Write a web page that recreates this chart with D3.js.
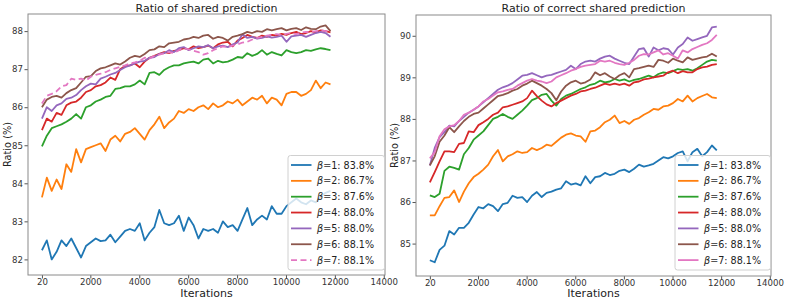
<!DOCTYPE html>
<html>
<head>
<meta charset="utf-8">
<script src="https://cdn.jsdelivr.net/npm/d3@7"></script>
<style>
  body { margin: 0; background: #fff; }
  text { font-family: "DejaVu Sans", sans-serif; }
</style>
</head>
<body>
<div id="chart"></div>
<script>
// iterations sampled along the x axis
const iterations = [20,220,420,620,820,1020,1220,1420,1620,1820,2020,2220,2420,2620,2820,3020,3220,3420,3620,3820,
  4020,4220,4420,4620,4820,5020,5220,5420,5620,5820,6020,6220,6420,6620,6820,7020,7220,7420,7620,7820,
  8020,8220,8420,8620,8820,9020,9220,9420,9620,9820,10020,10220,10420,10620,10820,11020,11220,11420,11620,11820];

const xTicks = [20, 2000, 4000, 6000, 8000, 10000, 12000, 14000];
const sharedTicks = [82, 83, 84, 85, 86, 87, 88];
const correctTicks = [85, 86, 87, 88, 89, 90];

const betas = [1, 2, 3, 4, 5, 6, 7];
const accLabels = ["83.8%", "86.7%", "87.6%", "88.0%", "88.0%", "88.1%", "88.1%"];
const colors = ["#1f77b4", "#ff7f0e", "#2ca02c", "#d62728", "#9467bd", "#8c564b", "#e377c2"];

// Ratio of shared prediction
const sharedB1 = [82.24,82.5,82.0,82.2,82.5,82.35,82.55,82.3,82.05,82.35,
  82.45,82.55,82.48,82.5,82.65,82.45,82.6,82.75,82.8,82.75,
  82.95,82.5,82.7,82.85,83.3,82.95,82.9,82.95,83.15,82.75,
  83.1,82.9,82.55,82.8,82.75,82.8,82.7,83.0,82.85,82.9,
  82.75,83.05,83.35,82.9,83.05,83.15,83.05,83.4,83.2,83.2,
  83.4,83.5,83.6,83.5,83.45,83.55,83.5,83.65,83.75,83.8];
const sharedB2 = [83.63,84.15,83.8,84.1,83.85,84.5,84.3,84.9,84.55,84.9,
  84.95,85.0,85.05,84.85,85.15,85.25,85.1,85.3,85.35,85.45,
  85.3,85.15,85.4,85.55,85.75,85.45,85.6,85.7,85.9,85.85,
  85.95,85.9,86.0,86.05,85.95,86.1,86.0,86.05,86.15,86.1,
  86.2,86.05,86.15,86.25,86.2,86.3,86.1,86.25,86.2,86.05,
  86.35,86.4,86.4,86.3,86.35,86.45,86.7,86.5,86.65,86.6];
const sharedB3 = [84.97,85.25,85.45,85.5,85.55,85.62,85.7,85.82,85.7,86.0,
  86.05,86.15,86.2,86.27,86.3,86.48,86.5,86.55,86.55,86.6,
  86.7,86.6,86.9,86.92,86.85,86.98,87.05,87.1,87.1,87.15,
  87.18,87.2,87.15,87.25,87.28,87.15,87.22,87.18,87.2,87.25,
  87.32,87.3,87.42,87.35,87.4,87.5,87.38,87.45,87.4,87.36,
  87.5,87.45,87.42,87.45,87.5,87.48,87.52,87.55,87.53,87.5];
const sharedB4 = [85.4,85.7,85.62,85.85,85.8,86.05,86.12,86.15,86.25,86.4,
  86.45,86.55,86.58,86.65,86.78,86.72,87.0,87.08,87.1,87.15,
  87.05,87.2,87.3,87.35,87.4,87.45,87.42,87.48,87.5,87.55,
  87.52,87.6,87.55,87.58,87.62,87.55,87.65,87.7,87.72,87.6,
  87.75,87.82,87.9,87.85,87.82,87.88,87.85,87.9,87.88,87.93,
  87.9,87.95,87.98,87.92,87.95,88.0,87.97,88.02,88.0,87.97];
const sharedB5 = [85.7,86.0,85.9,86.05,86.1,86.22,86.25,86.32,86.45,86.55,
  86.62,86.6,86.75,86.8,86.86,86.9,86.98,87.05,87.1,87.15,
  87.2,87.22,87.3,87.32,87.4,87.42,87.5,87.45,87.55,87.58,
  87.5,87.55,87.6,87.58,87.63,87.55,87.6,87.62,87.58,87.65,
  87.7,87.92,87.82,87.85,87.8,87.82,87.86,87.83,87.85,87.88,
  87.72,87.86,87.88,87.9,87.85,87.9,87.95,87.98,87.95,87.85];
const sharedB6 = [86.0,86.2,86.27,86.3,86.25,86.37,86.45,86.5,86.65,86.8,
  86.82,86.95,87.02,87.05,87.1,87.15,87.12,87.2,87.3,87.35,
  87.32,87.4,87.5,87.52,87.6,87.58,87.68,87.7,87.72,87.78,
  87.8,87.85,87.82,87.88,87.9,87.8,87.85,87.82,87.75,87.85,
  87.88,87.92,87.98,87.95,88.0,87.98,88.05,88.02,88.05,88.08,
  88.02,88.06,88.08,88.03,88.1,88.06,88.05,88.12,88.15,88.0];
const sharedB7 = [86.1,86.3,86.35,86.42,86.55,86.58,86.75,86.72,86.75,86.7,
  86.8,86.85,86.88,86.92,86.98,87.02,87.06,87.1,87.15,87.18,
  87.22,87.3,87.28,87.35,87.38,87.42,87.45,87.42,87.5,87.55,
  87.52,87.48,87.45,87.38,87.42,87.5,87.55,87.6,87.58,87.62,
  87.65,87.7,87.72,87.78,87.82,87.85,87.88,87.9,87.92,87.9,
  87.93,87.95,87.92,87.96,87.98,87.97,88.0,88.02,88.0,88.0];

// Ratio of correct shared prediction
const correctB1 = [84.6,84.55,84.85,84.95,85.3,85.22,85.38,85.38,85.5,85.7,
  85.88,85.85,85.95,85.9,85.78,85.95,85.98,86.15,86.1,86.12,
  86.0,86.15,86.24,86.12,86.22,86.25,86.3,86.33,86.5,86.42,
  86.45,86.4,86.62,86.45,86.6,86.62,86.7,86.65,86.68,86.75,
  86.78,86.72,86.8,86.9,86.85,86.88,86.92,87.0,87.08,87.05,
  87.1,87.18,87.22,86.98,87.2,87.28,87.1,87.2,87.36,87.24];
const correctB2 = [85.68,85.68,85.9,86.1,86.12,86.28,86.0,86.25,86.45,86.6,
  86.68,86.78,86.9,87.1,87.25,86.98,87.1,87.15,87.22,87.18,
  87.2,87.3,87.25,87.3,87.38,87.35,87.45,87.55,87.62,87.65,
  87.6,87.58,87.45,87.7,87.72,87.8,87.92,87.98,88.08,87.9,
  87.95,87.88,87.98,88.02,88.1,88.16,88.24,88.22,88.3,88.32,
  88.38,88.48,88.42,88.56,88.42,88.5,88.55,88.6,88.52,88.5];
const correctB3 = [86.16,86.12,86.2,86.75,86.85,86.82,86.78,87.15,87.3,87.5,
  87.6,87.7,87.85,88.0,88.05,88.12,88.05,88.0,88.1,88.2,
  88.32,88.45,88.5,88.58,88.6,88.44,88.32,88.48,88.56,88.6,
  88.66,88.72,88.76,88.82,88.85,88.92,88.88,88.9,88.96,88.92,
  88.95,88.9,88.94,88.96,89.0,89.04,89.0,89.08,89.12,89.1,
  89.15,89.2,89.18,89.2,89.16,89.22,89.3,89.38,89.42,89.4];
const correctB4 = [86.47,86.72,86.98,87.22,87.22,87.2,87.4,87.42,87.7,87.68,
  87.85,87.92,88.0,88.1,88.15,88.28,88.3,88.34,88.38,88.42,
  88.5,88.68,88.55,88.44,88.35,88.3,88.38,88.44,88.5,88.56,
  88.6,88.66,88.68,88.72,88.75,88.8,88.85,88.82,88.85,88.82,
  88.85,88.8,88.88,88.9,88.95,88.97,89.0,89.02,89.04,89.12,
  89.16,89.1,89.15,89.12,89.12,89.2,89.24,89.26,89.3,89.32];
const correctB5 = [86.88,87.3,87.56,87.68,87.84,87.82,87.95,88.05,88.15,88.22,
  88.3,88.4,88.5,88.6,88.7,88.76,88.8,88.86,88.95,89.04,
  89.06,89.1,89.05,89.0,89.04,89.06,89.1,89.14,89.18,89.28,
  89.2,89.32,89.38,89.4,89.38,89.45,89.5,89.52,89.45,89.4,
  89.35,89.32,89.5,89.68,89.7,89.5,89.72,89.65,89.7,89.68,
  89.55,89.72,89.8,89.96,89.88,89.92,89.96,90.0,90.2,90.22];
const correctB6 = [86.88,87.1,87.45,87.6,87.8,87.68,87.82,87.95,88.05,88.12,
  88.15,88.25,88.35,88.45,88.55,88.58,88.62,88.68,88.72,88.8,
  88.85,88.92,88.86,88.8,88.72,88.62,88.45,88.66,88.8,88.88,
  88.92,88.85,88.88,88.95,89.12,89.05,89.1,89.02,88.96,89.05,
  89.1,89.0,89.2,89.22,89.25,89.28,89.25,89.42,89.4,89.35,
  89.45,89.4,89.36,89.48,89.42,89.45,89.48,89.5,89.57,89.5];
const correctB7 = [87.05,87.2,87.58,87.75,87.82,87.85,87.95,88.1,88.15,88.22,
  88.3,88.42,88.48,88.56,88.64,88.66,88.7,88.72,88.8,88.86,
  88.92,88.96,88.92,88.9,88.86,88.9,89.0,89.05,89.1,89.16,
  89.2,89.25,89.28,89.3,89.32,89.4,89.38,89.4,89.35,89.32,
  89.3,89.35,89.42,89.52,89.56,89.55,89.6,89.65,89.55,89.58,
  89.52,89.45,89.65,89.6,89.68,89.73,89.78,89.82,89.9,90.02];

const W = 789, H = 303;
const svg = d3.select("#chart").append("svg")
  .attr("width", W).attr("height", H);
svg.append("rect").attr("width", W).attr("height", H).attr("fill", "#fff");

function drawPanel(cfg) {
  const x = d3.scaleLinear().domain([-550, 14050]).range([cfg.left, cfg.right]);
  const y = d3.scaleLinear().domain(cfg.yDomain).range([cfg.bottom, cfg.top]);
  const g = svg.append("g");

  // axes
  const xa = g.append("g")
    .attr("transform", `translate(0,${cfg.bottom})`)
    .call(d3.axisBottom(x).tickValues(xTicks).tickSize(3.5).tickPadding(0.5).tickFormat(d3.format("d")));
  const ya = g.append("g")
    .attr("transform", `translate(${cfg.left},0)`)
    .call(d3.axisLeft(y).tickValues(cfg.yTicks).tickSize(3.5).tickPadding(1.5).tickFormat(d3.format("d")));
  [xa, ya].forEach(a => {
    a.select(".domain").remove();
    a.selectAll(".tick line").attr("stroke", "#555");
    a.selectAll(".tick text").attr("fill", "#333").style("font-size", "8.6px")
      .style("font-family", "DejaVu Sans");
  });

  // lines
  const line = d3.line().x((d, i) => x(iterations[i])).y(d => y(d));
  cfg.series.forEach((s, k) => {
    g.append("path")
      .attr("d", line(s))
      .attr("fill", "none")
      .attr("stroke", colors[k])
      .attr("stroke-width", 1.8)
      .attr("stroke-linejoin", "round")
      .attr("stroke-dasharray", (cfg.dashedLast && k === 6) ? "6,3.5" : null);
  });

  // frame
  g.append("rect")
    .attr("x", cfg.left).attr("y", cfg.top)
    .attr("width", cfg.right - cfg.left).attr("height", cfg.bottom - cfg.top)
    .attr("fill", "none").attr("stroke", "#8a8a8a").attr("stroke-width", 1);

  // title and labels
  const cx = (cfg.left + cfg.right) / 2;
  g.append("text").attr("x", cx).attr("y", 11.5)
    .attr("text-anchor", "middle").style("font-size", "11px").attr("fill", "#222")
    .text(cfg.title);
  g.append("text").attr("x", cx).attr("y", 297)
    .attr("text-anchor", "middle").style("font-size", "11px").attr("fill", "#222")
    .text("Iterations");
  g.append("text")
    .attr("transform", `translate(${cfg.ylabelX},${(cfg.top + cfg.bottom) / 2}) rotate(-90)`)
    .attr("text-anchor", "middle").style("font-size", "9.8px").attr("fill", "#222")
    .text("Ratio (%)");

  // legend
  const lg = g.append("g");
  lg.append("rect")
    .attr("x", cfg.legX).attr("y", 155.5)
    .attr("width", cfg.right - 0.5 - cfg.legX).attr("height", 114.5)
    .attr("rx", 2.5)
    .attr("fill", "#fff").attr("fill-opacity", 0.8)
    .attr("stroke", "#d0d0d0");
  betas.forEach((b, k) => {
    const ey = 165 + k * 15.85;
    lg.append("line")
      .attr("x1", cfg.legX + 3).attr("x2", cfg.legX + 23.5)
      .attr("y1", ey).attr("y2", ey)
      .attr("stroke", colors[k]).attr("stroke-width", 1.8)
      .attr("stroke-dasharray", (cfg.dashedLast && k === 6) ? "6,3.5" : null);
    const t = lg.append("text")
      .attr("x", cfg.legX + 29).attr("y", ey + 3.5)
      .style("font-size", "9.6px").attr("fill", "#222");
    t.append("tspan").style("font-style", "italic").text("β");
    t.append("tspan").attr("fill", "#555").text("=");
    t.append("tspan").text(`${b}: ${accLabels[k]}`);
  });
}

drawPanel({
  left: 28, right: 385, top: 14, bottom: 275,
  yDomain: [81.59, 88.45], yTicks: sharedTicks,
  title: "Ratio of shared prediction",
  series: [sharedB1, sharedB2, sharedB3, sharedB4, sharedB5, sharedB6, sharedB7],
  dashedLast: true, ylabelX: 10.5, legX: 288
});

drawPanel({
  left: 416, right: 771, top: 15, bottom: 276,
  yDomain: [84.22, 90.5], yTicks: correctTicks,
  title: "Ratio of correct shared prediction",
  series: [correctB1, correctB2, correctB3, correctB4, correctB5, correctB6, correctB7],
  dashedLast: false, ylabelX: 398, legX: 675
});
</script>
</body>
</html>
